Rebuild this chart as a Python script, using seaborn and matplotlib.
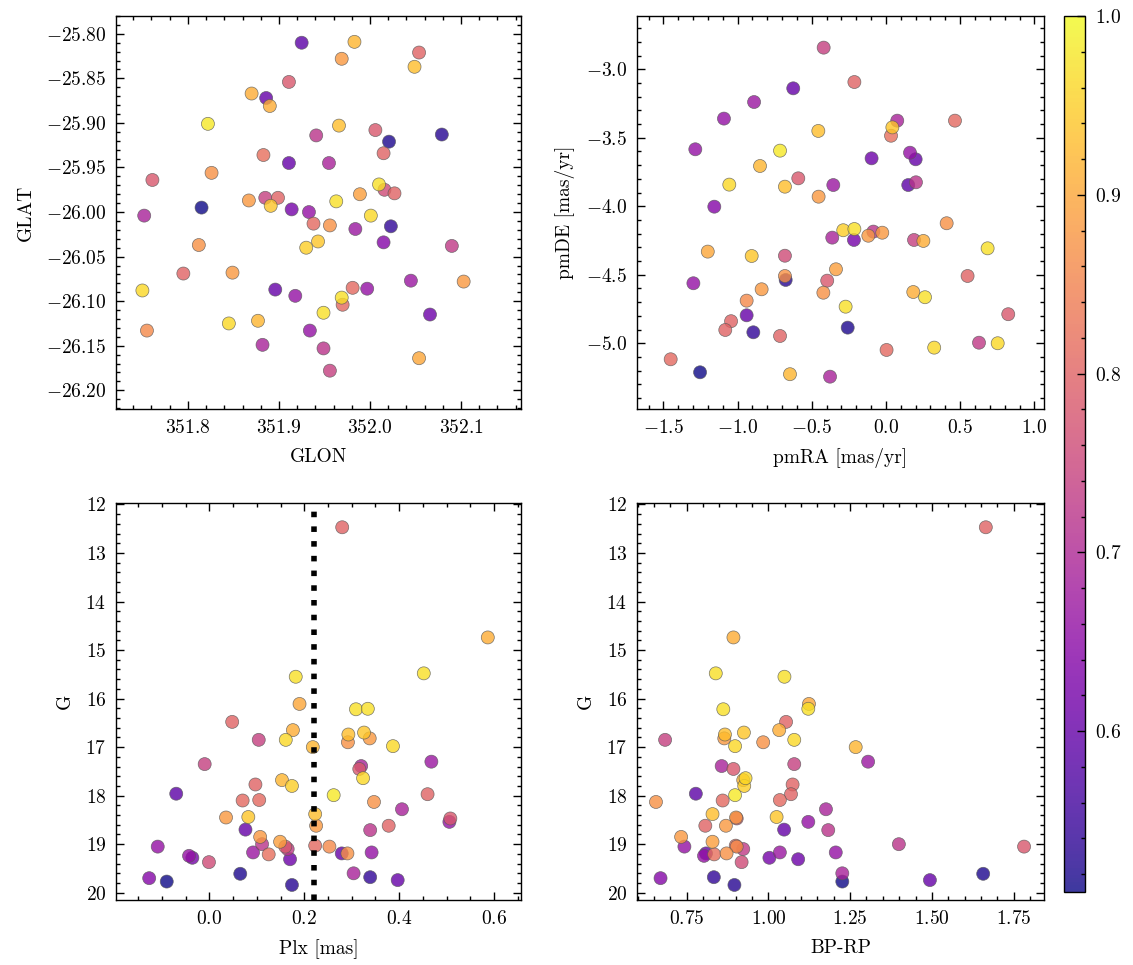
import pandas as pd
import seaborn as sns
import matplotlib.pyplot as plt
from matplotlib.ticker import MultipleLocator
from matplotlib.colors import Normalize
from matplotlib.cm import ScalarMappable

# membership probability (stars sorted from low to high)
memb = [0.51, 0.52, 0.53, 0.54, 0.59, 0.60, 0.60, 0.60, 0.61, 0.62,
        0.64, 0.66, 0.66, 0.66, 0.66, 0.67, 0.67, 0.69, 0.69, 0.69,
        0.72, 0.72, 0.73, 0.74, 0.74, 0.76, 0.78, 0.78, 0.78, 0.80,
        0.80, 0.80, 0.80, 0.80, 0.81, 0.81, 0.81, 0.82, 0.86, 0.87,
        0.87, 0.87, 0.88, 0.88, 0.88, 0.88, 0.89, 0.90, 0.91, 0.91,
        0.92, 0.92, 0.93, 0.93, 0.94, 0.94, 0.95, 0.96, 0.96, 0.96,
        0.97, 0.97, 0.97, 0.97, 0.98]

glon = [351.815, 352.021, 352.079, 352.023, 351.925, 351.886, 351.896, 351.911, 352.066, 351.914,
        352.015, 351.997, 351.933, 351.918, 351.934, 351.984, 352.045, 351.752, 351.882, 351.955,
        351.949, 351.941, 352.090, 351.956, 351.885, 352.016, 352.006, 351.911, 351.761, 351.899,
        351.795, 352.054, 352.015, 352.027, 351.981, 351.970, 351.938, 351.883, 351.755, 351.812,
        351.956, 351.826, 351.867, 351.849, 352.103, 351.969, 351.989, 352.054, 351.870, 351.890,
        351.877, 351.983, 352.049, 351.966, 351.943, 351.891, 351.930, 351.845, 352.001, 351.750,
        352.010, 351.963, 351.969, 351.949, 351.822]

glat = [-25.995, -25.921, -25.913, -26.016, -25.810, -25.872, -26.087, -25.945, -26.115, -25.997,
        -26.034, -26.086, -26.000, -26.094, -26.133, -26.019, -26.077, -26.004, -26.149, -25.945,
        -26.153, -25.914, -26.038, -26.178, -25.984, -25.975, -25.908, -25.854, -25.964, -25.984,
        -26.069, -25.821, -25.934, -25.979, -26.085, -26.104, -26.013, -25.936, -26.133, -26.037,
        -26.015, -25.956, -25.987, -26.068, -26.078, -25.828, -25.980, -26.164, -25.867, -25.881,
        -26.122, -25.809, -25.837, -25.903, -26.033, -25.993, -26.040, -26.125, -26.004, -26.088,
        -25.969, -25.988, -26.096, -26.113, -25.901]

pmra = [-1.253, -0.258, -0.676, -0.894, 0.150, -0.625, -0.939, 0.200, -0.097, -0.216,
        -1.157, -1.285, -1.092, -1.298, 0.162, -0.355, -0.889, 0.076, -0.362, -0.377,
        0.202, -0.085, 0.627, -0.420, 0.189, -0.681, -0.396, 0.824, -0.591, -1.044,
        -1.083, -0.213, 0.550, -0.714, -1.451, 0.465, 0.004, 0.034, -0.939, 0.409,
        -0.422, -0.681, -0.838, -0.119, -0.454, -0.025, -0.337, -1.201, 0.252, 0.184,
        -0.849, -0.647, -0.681, -0.456, -0.905, 0.043, -0.288, 0.325, 0.753, -1.056,
        -0.213, 0.685, 0.263, -0.272, -0.714]

pmde = [-5.212, -4.886, -4.538, -4.920, -3.845, -3.139, -4.796, -3.657, -3.650, -4.246,
        -4.003, -3.584, -3.360, -4.562, -3.609, -3.845, -3.239, -3.375, -4.229, -5.244,
        -3.825, -4.185, -4.996, -2.842, -4.246, -4.361, -4.543, -4.788, -3.796, -4.839,
        -4.903, -3.093, -4.509, -4.947, -5.117, -3.375, -5.049, -3.485, -4.689, -4.124,
        -4.631, -4.509, -4.606, -4.215, -3.930, -4.193, -4.460, -4.331, -4.253, -4.626,
        -3.706, -5.226, -3.857, -3.450, -4.363, -3.424, -4.175, -5.032, -5.000, -3.842,
        -4.166, -4.307, -4.664, -4.733, -3.594]

plx = [-0.090, 0.065, 0.174, 0.339, -0.070, 0.076, 0.279, 0.397, 0.170, -0.036,
       -0.127, -0.109, -0.043, 0.506, 0.342, 0.092, 0.468, 0.320, 0.406, 0.304,
       0.111, 0.339, 0.165, 0.104, -0.010, -0.001, 0.160, 0.316, 0.508, 0.048,
       0.097, 0.280, 0.460, 0.378, 0.070, 0.105, 0.223, 0.125, 0.253, 0.292,
       0.347, 0.291, 0.035, 0.225, 0.107, 0.338, 0.149, 0.190, 0.176, 0.587,
       0.218, 0.153, 0.223, 0.293, 0.082, 0.326, 0.174, 0.161, 0.387, 0.324,
       0.182, 0.452, 0.309, 0.334, 0.262]

gmag = [19.77, 19.61, 19.84, 19.68, 17.96, 18.70, 19.19, 19.74, 19.31, 19.28,
        19.70, 19.05, 19.24, 18.54, 19.17, 19.17, 17.30, 17.39, 18.28, 19.60,
        19.00, 18.71, 19.10, 16.85, 17.35, 19.37, 19.05, 17.45, 18.47, 16.48,
        17.77, 12.47, 17.97, 18.62, 18.10, 18.09, 19.03, 19.21, 19.05, 16.90,
        18.13, 19.19, 18.45, 18.62, 18.85, 16.82, 18.95, 16.11, 16.65, 14.74,
        17.00, 17.68, 18.38, 16.74, 18.44, 16.70, 17.80, 16.85, 16.98, 17.64,
        15.55, 15.48, 16.22, 16.21, 17.99]

bp_rp = [1.226, 1.657, 0.896, 0.833, 0.778, 1.048, 0.809, 1.494, 1.091, 1.003,
         0.670, 0.743, 0.803, 1.122, 1.206, 1.035, 1.305, 0.857, 1.176, 1.226,
         1.399, 1.183, 0.923, 0.684, 1.079, 0.918, 1.782, 0.893, 0.903, 1.054,
         1.074, 1.665, 1.069, 0.807, 0.860, 1.035, 0.900, 0.834, 0.903, 0.984,
         0.656, 0.872, 0.901, 0.870, 0.733, 0.865, 0.829, 1.124, 1.033, 0.893,
         1.267, 0.923, 0.829, 0.867, 1.025, 0.925, 0.926, 1.079, 0.898, 0.930,
         1.049, 0.839, 0.862, 1.122, 0.898]

plx_ref = 0.22

df = pd.DataFrame({'GLON': glon, 'GLAT': glat, 'pmRA': pmra, 'pmDE': pmde,
                   'Plx': plx, 'G': gmag, 'BP-RP': bp_rp, 'prob': memb})

plt.rcParams.update({
    'font.family': 'serif',
    'font.serif': ['cmr10'],
    'mathtext.fontset': 'cm',
    'axes.formatter.use_mathtext': True,
    'axes.formatter.useoffset': False,
    'font.size': 7,
    'axes.linewidth': 0.5,
    'xtick.direction': 'in', 'ytick.direction': 'in',
    'xtick.top': True, 'ytick.right': True,
    'xtick.major.size': 3, 'ytick.major.size': 3,
    'xtick.minor.size': 1.5, 'ytick.minor.size': 1.5,
    'xtick.major.width': 0.5, 'ytick.major.width': 0.5,
    'xtick.minor.width': 0.5, 'ytick.minor.width': 0.5,
    'xtick.minor.visible': True, 'ytick.minor.visible': True,
})

W, H = 1133, 965
fig = plt.figure(figsize=(W / 200, H / 200), dpi=200)

def box(l, t, r, b):
    return [l / W, 1 - b / H, (r - l) / W, (b - t) / H]

ax1 = fig.add_axes(box(116, 16, 521, 409))
ax2 = fig.add_axes(box(637, 16, 1044, 409))
ax3 = fig.add_axes(box(116, 503, 521, 900))
ax4 = fig.add_axes(box(637, 503, 1044, 900))
cax = fig.add_axes(box(1064, 16, 1085, 892))

vmin, vmax = min(memb), 1.0
kw = dict(data=df, hue='prob', palette='plasma', hue_norm=(vmin, vmax),
          s=22, alpha=0.8, edgecolor='0.35', linewidth=0.25, legend=False)

sns.scatterplot(x='GLON', y='GLAT', ax=ax1, **kw)
sns.scatterplot(x='pmRA', y='pmDE', ax=ax2, **kw)
sns.scatterplot(x='Plx', y='G', ax=ax3, **kw)
sns.scatterplot(x='BP-RP', y='G', ax=ax4, **kw)
ax3.axvline(plx_ref, color='k', ls=':', lw=2, zorder=5)

ax1.set_xlim(351.721, 352.166)
ax1.set_ylim(-26.221, -25.780)
ax1.xaxis.set_major_locator(MultipleLocator(0.1))
ax1.yaxis.set_major_locator(MultipleLocator(0.05))
ax1.yaxis.set_major_formatter(plt.FuncFormatter(lambda v, p: f'$-{abs(v):.2f}$'))
ax1.set_xlabel('GLON')
ax1.set_ylabel('GLAT')

ax2.set_xlim(-1.678, 1.065)
ax2.set_ylim(-5.480, -2.611)
ax2.xaxis.set_major_locator(MultipleLocator(0.5))
ax2.yaxis.set_major_locator(MultipleLocator(0.5))
ax2.set_xlabel('pmRA [mas/yr]')
ax2.set_ylabel('pmDE [mas/yr]')

ax3.set_xlim(-0.197, 0.657)
ax3.set_ylim(20.15, 11.97)
ax3.xaxis.set_major_locator(MultipleLocator(0.2))
ax3.yaxis.set_major_locator(MultipleLocator(1))
ax3.set_xlabel('Plx [mas]')
ax3.set_ylabel('G')

ax4.set_xlim(0.598, 1.843)
ax4.set_ylim(20.15, 11.97)
ax4.xaxis.set_major_locator(MultipleLocator(0.25))
ax4.xaxis.set_minor_locator(MultipleLocator(0.05))
ax4.yaxis.set_major_locator(MultipleLocator(1))
ax4.set_xlabel('BP-RP')
ax4.set_ylabel('G')

sm = ScalarMappable(norm=Normalize(vmin, vmax), cmap='plasma')
cb = fig.colorbar(sm, cax=cax, alpha=0.8)
cb.outline.set_linewidth(0.5)
cb.ax.yaxis.set_major_locator(MultipleLocator(0.1))
cb.ax.yaxis.set_minor_locator(MultipleLocator(0.02))
cb.ax.tick_params(which='both', direction='in', right=True, left=False)

fig.savefig('out.png', dpi=200)
